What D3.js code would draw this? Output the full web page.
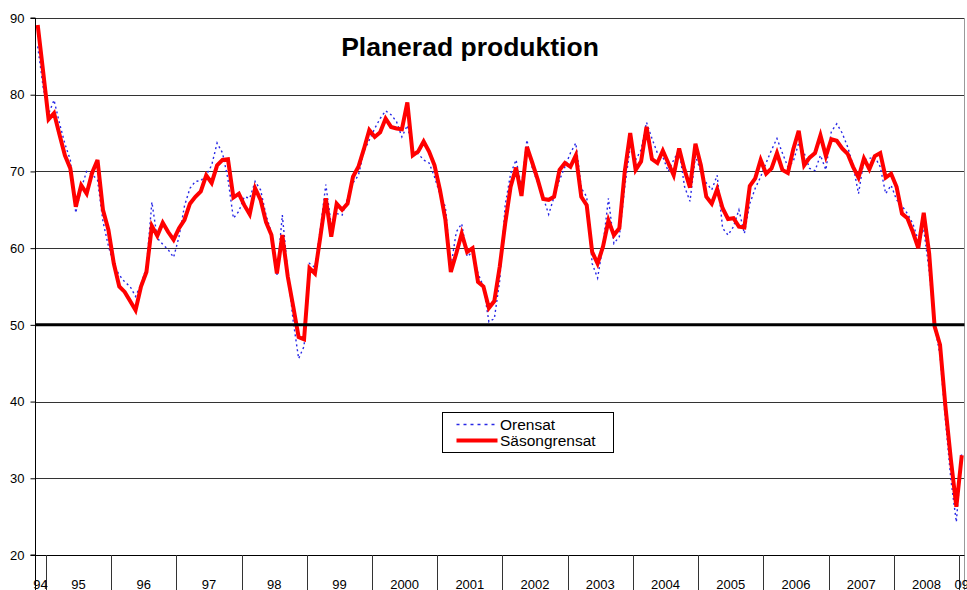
<!DOCTYPE html>
<html>
<head>
<meta charset="utf-8">
<script src="https://cdn.jsdelivr.net/npm/d3@7"></script>
<style>
  html, body { margin: 0; padding: 0; background: #fff; }
  svg { display: block; font-family: "Liberation Sans", Arial, sans-serif; }
</style>
</head>
<body>
<svg id="chart" width="967" height="590"></svg>
<script>
// ---- Data ----
const title = "Planerad produktion";
const yearLabels = ["94","95","96","97","98","99","2000","2001","2002","2003","2004","2005","2006","2007","2008","09"];
const monthsInYear = [2,12,12,12,12,12,12,12,12,12,12,12,12,12,12,1];
const yTicks = [20,30,40,50,60,70,80,90];
const seriesNames = ["Orensat","Säsongrensat"];

const orensat = [
  86.3,81.0,77.5,79.3,76.3,73.6,71.5,64.6,67.8,70.0,69.6,68.9,
  63.5,60.3,57.8,56.5,55.6,55.0,53.7,55.3,57.5,66.0,61.3,60.5,
  59.8,58.8,61.5,65.5,67.8,68.7,68.8,69.5,70.8,73.7,72.4,69.0,
  63.9,64.8,66.7,66.5,68.7,67.6,64.3,62.0,56.4,64.3,57.0,50.5,
  45.6,47.2,58.0,57.5,62.5,68.3,63.0,64.5,64.3,66.5,68.5,69.5,
  72.6,74.1,75.6,76.9,77.9,77.4,76.5,74.5,76.0,72.6,72.3,71.5,
  71.1,69.3,67.0,65.4,57.5,62.1,63.2,58.9,59.5,56.7,55.0,50.4,
  50.8,55.8,65.6,69.7,71.5,68.0,74.1,70.4,68.5,66.6,64.4,66.7,
  68.9,70.6,72.4,73.7,67.8,66.7,58.0,56.1,60.4,66.5,60.6,61.5,
  68.0,73.2,71.5,72.8,76.4,74.3,72.4,71.9,70.0,71.5,72.8,68.0,
  66.1,72.0,70.0,68.5,67.6,69.5,62.6,61.7,62.8,65.0,61.9,65.8,
  67.8,69.3,71.1,72.8,74.3,72.4,70.6,71.3,73.7,72.4,70.4,70.1,
  72.1,70.2,75.2,76.2,75.0,73.2,70.8,67.1,71.5,71.7,71.9,70.6,
  67.1,68.2,66.3,65.5,64.5,63.2,61.0,62.5,57.0,50.0,46.0,37.5,
  29.8,24.3,33.5
];
const sasongrensat = [
  89.1,83.0,76.8,77.6,74.8,72.1,70.4,65.4,68.2,67.1,69.8,71.5,
  65.0,62.4,58.0,55.0,54.3,53.1,51.9,55.0,56.9,62.9,61.6,63.3,
  62.1,61.1,62.6,63.7,65.8,66.7,67.4,69.5,68.5,70.8,71.5,71.6,
  66.6,67.1,65.6,64.4,67.8,66.3,63.4,61.7,56.7,61.7,56.3,52.4,
  48.4,48.1,57.4,56.7,61.5,66.5,61.5,65.8,65.0,65.8,69.3,70.6,
  72.9,75.4,74.5,75.1,76.9,75.8,75.6,75.5,79.0,72.1,72.6,73.9,
  72.6,70.8,67.6,63.7,56.9,59.3,61.9,59.5,60.0,55.6,55.0,52.2,
  53.1,57.6,63.2,68.0,70.5,66.8,73.2,71.1,68.9,66.4,66.3,66.7,
  70.2,71.1,70.6,72.1,66.7,65.6,59.5,58.0,60.2,63.6,61.7,62.6,
  70.0,75.0,70.2,71.3,75.8,71.6,71.1,72.7,71.1,69.5,73.0,70.2,
  67.9,73.6,70.8,66.7,65.8,67.7,65.2,63.8,63.9,62.8,62.7,68.1,
  69.1,71.5,69.7,70.4,72.4,70.2,69.8,72.9,75.3,70.8,71.8,72.4,
  74.7,72.0,74.2,74.0,73.0,72.3,70.6,69.2,71.7,70.3,72.0,72.4,
  69.2,69.7,68.0,64.5,63.9,62.1,60.0,64.6,59.3,49.8,47.4,39.3,
  32.4,26.3,33.0
];

// ---- Layout ----
const svg = d3.select("#chart");
const L = 35, R = 964.5, T = 18, B = 555;

const nMonths = d3.sum(monthsInYear);
const x = d3.scaleBand().domain(d3.range(nMonths)).range([L, R]).paddingInner(0).paddingOuter(0);
const cx = i => x(i) + x.bandwidth() / 2;
const y = d3.scaleLinear().domain([20, 90]).range([B, T]);

// Year groups
const groups = [];
let start = 0;
yearLabels.forEach((lab, k) => {
  groups.push({ label: lab, start: start, end: start + monthsInYear[k] });
  start += monthsInYear[k];
});
const xEdge = i => (i >= nMonths ? R : x(i));

// Gridlines
svg.append("g").selectAll("line").data(yTicks.filter(v => v > 20)).join("line")
  .attr("x1", L).attr("x2", R)
  .attr("y1", d => Math.round(y(d)) + 0.5).attr("y2", d => Math.round(y(d)) + 0.5)
  .attr("stroke", "#333").attr("stroke-width", 1);

// right plot border
svg.append("line").attr("x1", R).attr("x2", R).attr("y1", T).attr("y2", 590)
  .attr("stroke", "#999").attr("stroke-width", 1);

// Title
svg.append("text").attr("x", 470).attr("y", 56).attr("text-anchor", "middle")
  .attr("font-weight", "bold").attr("font-size", 26.5).attr("fill", "#000").text(title);

// Series
const line = d3.line().x((d, i) => cx(i)).y(d => y(d));
svg.append("path").datum(orensat).attr("d", line)
  .attr("fill", "none").attr("stroke", "#2828e6").attr("stroke-width", 1.4)
  .attr("stroke-dasharray", "2,3");
svg.append("path").datum(sasongrensat).attr("d", line)
  .attr("fill", "none").attr("stroke", "#ff0000").attr("stroke-width", 4)
  .attr("stroke-linejoin", "miter");

// 50 line
svg.append("line").attr("x1", L).attr("x2", R)
  .attr("y1", y(50)).attr("y2", y(50))
  .attr("stroke", "#000").attr("stroke-width", 3);

// Y axis
const yAxis = d3.axisLeft(y).tickValues(yTicks).tickSize(5).tickPadding(6);
const gy = svg.append("g").attr("transform", `translate(${L + 0.5},0)`).call(yAxis);
gy.select(".domain").attr("stroke", "#000");
gy.selectAll(".tick line").attr("stroke", "#000");
gy.selectAll(".tick text").attr("font-size", 13).attr("fill", "#000")
  .attr("font-family", "'Liberation Sans', Arial, sans-serif");
gy.select(".domain").attr("d", `M-5,${B}H0V${T}H-5`);

// X axis line
svg.append("line").attr("x1", L).attr("x2", R).attr("y1", B + 0.5).attr("y2", B + 0.5)
  .attr("stroke", "#000").attr("stroke-width", 1);
svg.append("line").attr("x1", L + 0.5).attr("x2", L + 0.5).attr("y1", B).attr("y2", 590)
  .attr("stroke", "#000").attr("stroke-width", 1);

// Year separators and labels
const gx = svg.append("g");
gx.selectAll("line").data(groups.slice(1)).join("line")
  .attr("x1", d => Math.round(xEdge(d.start)) + 0.5).attr("x2", d => Math.round(xEdge(d.start)) + 0.5)
  .attr("y1", B).attr("y2", 590).attr("stroke", "#333").attr("stroke-width", 1);
gx.selectAll("text").data(groups).join("text")
  .attr("x", d => (xEdge(d.start) + xEdge(d.end)) / 2)
  .attr("y", 588.5).attr("text-anchor", "middle")
  .attr("font-size", 13).attr("fill", "#000").text(d => d.label);

// Legend
const lg = svg.append("g").attr("transform", "translate(442.5,412.5)");
lg.append("rect").attr("width", 171).attr("height", 40)
  .attr("fill", "#fff").attr("stroke", "#000").attr("stroke-width", 1);
lg.append("line").attr("x1", 14).attr("x2", 52).attr("y1", 12).attr("y2", 12)
  .attr("stroke", "#2828e6").attr("stroke-width", 1.6).attr("stroke-dasharray", "3,4");
lg.append("line").attr("x1", 14).attr("x2", 55).attr("y1", 28).attr("y2", 28)
  .attr("stroke", "#ff0000").attr("stroke-width", 4);
lg.append("text").attr("x", 57.5).attr("y", 17).attr("font-size", 15.5).attr("fill", "#000").text(seriesNames[0]);
lg.append("text").attr("x", 57.5).attr("y", 33).attr("font-size", 15.5).attr("fill", "#000").text(seriesNames[1]);
</script>
</body>
</html>
